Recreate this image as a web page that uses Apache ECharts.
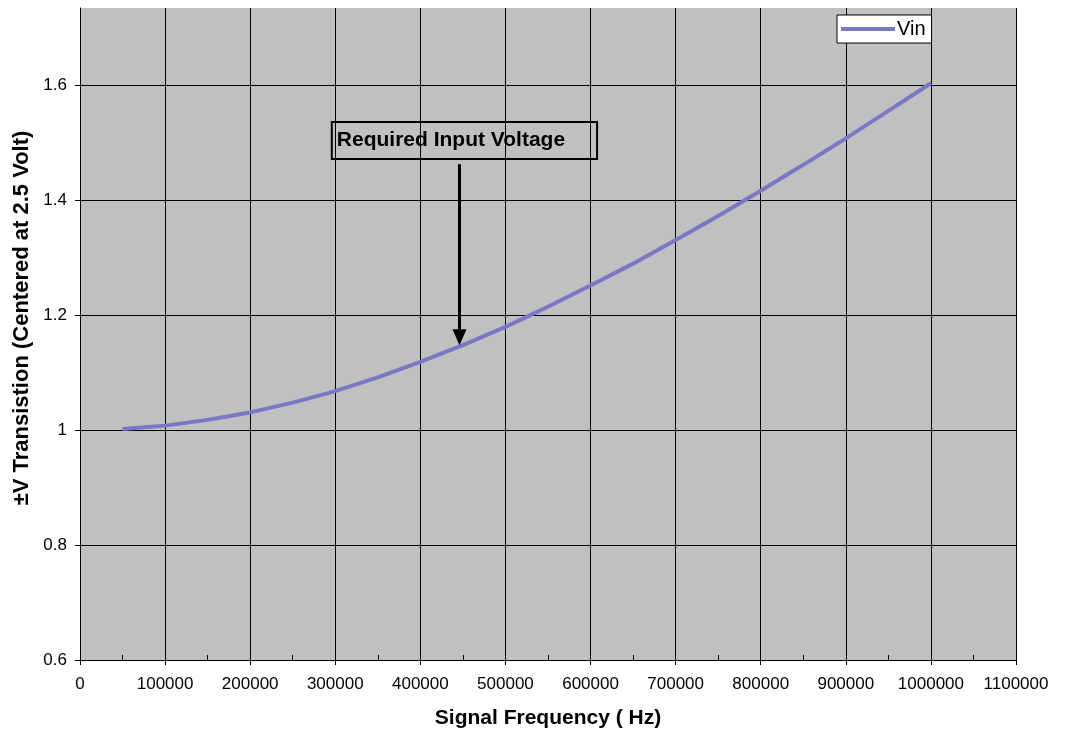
<!DOCTYPE html>
<html>
<head>
<meta charset="utf-8">
<title>Required Input Voltage</title>
<script src="https://cdn.jsdelivr.net/npm/echarts@6/dist/echarts.min.js"></script>
<style>
  html, body { margin: 0; padding: 0; background: #fff; }
  #chart { width: 1068px; height: 734px; }
</style>
</head>
<body>
<div id="chart"></div>
<script>
// signal frequency (Hz) and required input voltage
const freq = [50000, 100000, 150000, 200000, 250000, 300000, 350000, 400000, 450000, 500000,
  550000, 600000, 650000, 700000, 750000, 800000, 850000, 900000, 950000, 1000000]
const vin = [1.002, 1.008, 1.018, 1.031, 1.048, 1.068, 1.092, 1.119, 1.148, 1.180,
  1.215, 1.252, 1.290, 1.331, 1.373, 1.417, 1.462, 1.508, 1.556, 1.604]

// annotation: text box and arrow (data coords)
const noteText = 'Required Input Voltage'
const noteBox = [451800, 1.5045]
const arrowFrom = [446000, 1.463]
const arrowTo = [446000, 1.162]

const font = '"Liberation Sans", Arial, sans-serif'
const lineColor = '#7878c4'

const chart = echarts.init(document.getElementById('chart'))
chart.setOption({
  animation: false,
  textStyle: { fontFamily: font },
  grid: {
    left: 80,
    right: 52,
    top: 8,
    bottom: 72,
    show: true,
    backgroundColor: '#c0c0c0',
    borderWidth: 0
  },
  legend: {
    data: [{ name: 'Vin', icon: 'rect', itemStyle: { color: lineColor } }],
    left: 837,
    top: 15,
    padding: [4, 6, 4, 4],
    backgroundColor: '#fff',
    borderColor: '#000',
    borderWidth: 1,
    borderRadius: 0,
    itemWidth: 54,
    itemHeight: 4,
    textStyle: { fontSize: 20, color: '#000', fontFamily: font, padding: [0, 0, 0, -3] }
  },
  xAxis: [{
    type: 'value',
    min: 0,
    max: 1100000,
    interval: 100000,
    name: 'Signal Frequency ( Hz)',
    nameLocation: 'middle',
    nameGap: 48,
    nameTextStyle: { fontSize: 21, fontWeight: 'bold', color: '#000', fontFamily: font },
    axisLine: { show: true, lineStyle: { color: '#000', width: 1 } },
    axisTick: { show: true, inside: false, length: 5, lineStyle: { color: '#000' } },
    axisLabel: {
      margin: 16,
      fontSize: 17,
      color: '#000',
      fontFamily: font,
      formatter: v => String(v)
    },
    splitLine: { show: true, lineStyle: { color: '#000', width: 1 } }
  }, {
    // inner minor ticks every 50000
    type: 'value',
    position: 'bottom',
    min: 0,
    max: 1100000,
    interval: 50000,
    axisLine: { show: false },
    axisTick: { show: true, inside: true, length: 5, lineStyle: { color: '#000' } },
    axisLabel: { show: false },
    splitLine: { show: false }
  }],
  yAxis: {
    type: 'value',
    min: 0.6,
    max: 1.735,
    interval: 0.2,
    name: '±V Transistion (Centered at 2.5 Volt)',
    nameLocation: 'middle',
    nameGap: 46,
    nameTextStyle: {
      fontSize: 22,
      fontWeight: 'bold',
      color: '#000',
      fontFamily: font,
      padding: [0, 0, 0, 32]
    },
    axisLine: { show: true, lineStyle: { color: '#000', width: 1 } },
    axisTick: { show: true, inside: false, length: 5, lineStyle: { color: '#000' } },
    axisLabel: {
      margin: 13,
      fontSize: 17,
      color: '#000',
      fontFamily: font,
      showMaxLabel: false
    },
    splitLine: { show: true, showMaxLine: false, lineStyle: { color: '#000', width: 1 } }
  },
  series: [{
    name: 'Vin',
    type: 'line',
    data: freq.map((f, i) => [f, vin[i]]),
    showSymbol: false,
    symbol: 'none',
    smooth: false,
    color: lineColor,
    lineStyle: { color: lineColor, width: 4 },
    markPoint: {
      silent: true,
      symbol: 'circle',
      symbolSize: 0,
      data: [{
        coord: noteBox,
        label: {
          show: true,
          position: 'inside',
          formatter: noteText,
          fontSize: 21,
          lineHeight: 22,
          fontWeight: 'bold',
          color: '#000',
          fontFamily: font,
          borderColor: '#000',
          borderWidth: 2,
          padding: [5, 32, 10, 5]
        }
      }]
    },
    markLine: {
      silent: true,
      symbol: ['none', 'triangle'],
      symbolSize: [14, 16],
      label: { show: false },
      lineStyle: { color: '#000', width: 3, type: 'solid' },
      data: [[{ coord: arrowFrom }, { coord: arrowTo }]]
    }
  }]
})
</script>
</body>
</html>
